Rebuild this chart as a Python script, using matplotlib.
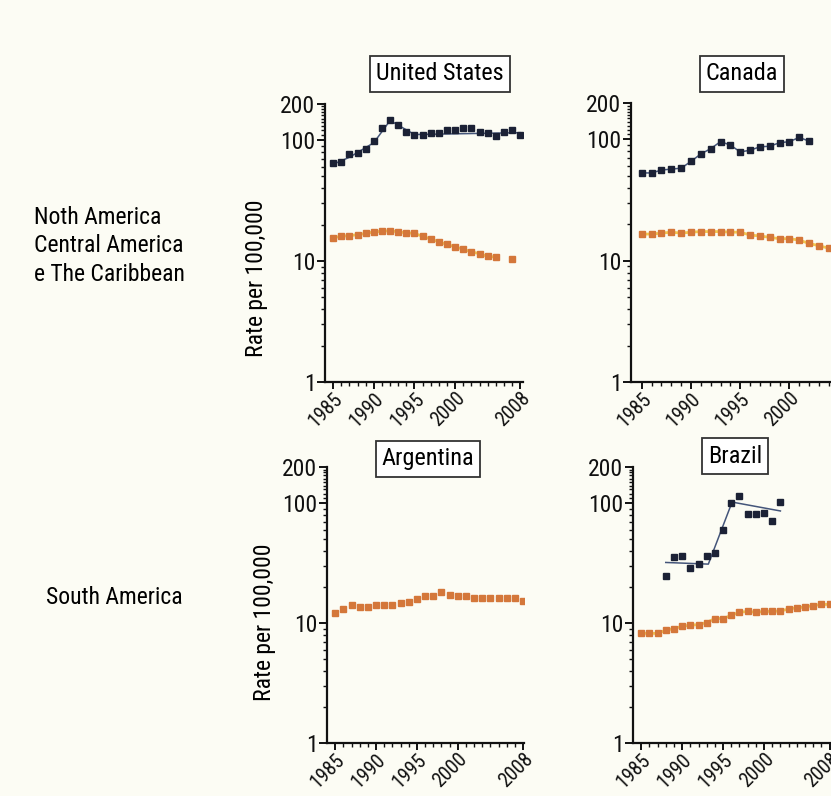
import numpy as np
import matplotlib
matplotlib.use("Agg")
import matplotlib.pyplot as plt
from matplotlib import font_manager
from matplotlib.ticker import FixedLocator, NullFormatter

# ---- data ----
years_us = np.arange(1985, 2009)
us_high = [64, 66, 76, 78, 84, 98, 125, 145, 132, 117, 109, 111, 115, 114,
           122, 122, 126, 125, 116, 114, 108, 117, 120, 109]
us_low = [15.6, 16.0, 16.2, 16.5, 16.9, 17.4, 17.6, 17.8, 17.4, 17.1, 16.9, 16.0,
          15.2, 14.4, 13.7, 13.1, 12.5, 11.9, 11.5, 10.9, 10.8, np.nan, 10.3, np.nan]
us_trend_years = [1985, 1987, 1990, 1992, 1995, 2008]
us_trend_vals = [63, 72, 95, 145, 111, 115]

years_ca_high = np.arange(1985, 2003)
ca_high = [53, 53, 56, 57, 58, 66, 76, 84, 96, 90, 79, 81.5, 87, 88, 94, 96, 104, 97]
years_ca_low = np.arange(1985, 2005)
ca_low = [16.6, 16.6, 16.9, 17.2, 16.9, 17.2, 17.4, 17.4, 17.4, 17.2, 17.2, 16.3,
          16.0, 15.6, 15.2, 15.2, 14.8, 13.9, 13.3, 12.7]

years_ar = np.arange(1985, 2009)
ar_low = [12.1, 13.1, 14.2, 13.7, 13.7, 14.2, 14.2, 14.2, 14.7, 15.1, 15.8, 16.7,
          16.7, 18.0, 17.2, 16.9, 16.7, 16.3, 16.3, 16.3, 16.3, 16.3, 16.1, 15.4]

years_br_high = np.arange(1988, 2003)
br_high = [24.7, 35.8, 36.5, 29.0, 30.9, 36.5, 38.6, 60.2, 101, 115.5, 81, 81, 82, 71.4, 102]
br_trend_years = [1988, 1993.2, 1996.1, 2002]
br_trend_vals = [32, 31, 102, 86]
years_br = np.arange(1985, 2009)
br_low = [8.2, 8.2, 8.2, 8.7, 9.0, 9.4, 9.6, 9.7, 10.1, 10.9, 10.9, 11.6, 12.3, 12.5,
          12.3, 12.5, 12.5, 12.6, 13.1, 13.4, 13.6, 14.0, 14.3, 14.3]

xticks = [1985, 1990, 1995, 2000, 2008]
yticks = [1, 10, 100, 200]

# ---- style ----
names = {f.name for f in font_manager.fontManager.ttflist}
narrow = [n for n in ["Liberation Sans Narrow", "Roboto Condensed", "Open Sans Condensed",
                      "Noto Sans Condensed", "DejaVu Sans"] if n in names]
plt.rcParams["font.family"] = [narrow[0], "DejaVu Sans"]
if narrow[0] == "DejaVu Sans":
    plt.rcParams["font.stretch"] = "condensed"

BG = "#fcfcf4"
NAVY = "#1b2135"
NAVY_LINE = "#44557a"
ORANGE = "#d4773a"
ORANGE_LINE = "#f5c84e"

W, H = 831, 796
fig = plt.figure(figsize=(W / 100, H / 100), dpi=100, facecolor=BG)


def make_axes(left, top, right, bottom, xlim):
    ax = fig.add_axes([left / W, 1 - bottom / H, (right - left) / W, (bottom - top) / H])
    ax.set_facecolor("none")
    ax.set_yscale("log")
    ax.set_ylim(1, 200)
    ax.set_xlim(*xlim)
    for s in ["top", "right"]:
        ax.spines[s].set_visible(False)
    for s in ["left", "bottom"]:
        ax.spines[s].set_linewidth(1.6)
        ax.spines[s].set_color("#111111")
    ax.yaxis.set_major_locator(FixedLocator(yticks))
    ax.set_yticklabels([str(t) for t in yticks], fontsize=17)
    ax.yaxis.set_minor_locator(FixedLocator(
        [v * d for d in (1, 10) for v in range(2, 10)] + [110, 120, 130, 140, 150, 160, 170, 180, 190]))
    ax.yaxis.set_minor_formatter(NullFormatter())
    ax.xaxis.set_major_locator(FixedLocator(xticks))
    ax.xaxis.set_minor_locator(FixedLocator(list(range(1985, 2009))))
    ax.set_xticklabels([str(t) for t in xticks], fontsize=14.5, rotation=45,
                       ha="right", rotation_mode="anchor")
    ax.tick_params(axis="both", which="major", length=6, width=1.4, pad=1, colors="#111111")
    ax.tick_params(axis="both", which="minor", length=3, width=1.0, colors="#111111")
    ax.tick_params(axis="x", which="major", length=5, pad=0)
    return ax


def draw_low(ax, yrs, vals, line=True):
    if line:
        ax.plot(yrs, vals, color=ORANGE_LINE, lw=2.0, zorder=2)
    ax.plot(yrs, vals, ls="none", marker="s", ms=4.2, color=ORANGE, mec=ORANGE, zorder=3)


# United States
ax1 = make_axes(325, 103.6, 522.7, 382, (1984.0, 2008.3))
ax1.plot(us_trend_years, us_trend_vals, color=NAVY_LINE, lw=1.1, zorder=2)
ax1.plot(years_us, us_high, ls="none", marker="s", ms=4.2, color=NAVY, zorder=3)
draw_low(ax1, years_us, us_low)

# Canada
ax2 = make_axes(631, 103, 871, 382, (1983.9, 2008.3))
ax2.plot(years_ca_high, ca_high, color=NAVY_LINE, lw=1.1, marker="s", ms=4.2,
         mfc=NAVY, mec=NAVY, zorder=3)
draw_low(ax2, years_ca_low, ca_low)

# Argentina
ax3 = make_axes(327, 467, 524, 743, (1984.0, 2008.1))
draw_low(ax3, years_ar, ar_low, line=False)

# Brazil
ax4 = make_axes(633, 467, 832, 743, (1984.0, 2008.3))
ax4.plot(br_trend_years, br_trend_vals, color=NAVY_LINE, lw=1.1, zorder=2)
ax4.plot(years_br_high, br_high, ls="none", marker="s", ms=4.6, color=NAVY, zorder=3)
draw_low(ax4, years_br, br_low)

# panel titles in boxes
box = dict(boxstyle="square,pad=0.25", fc="white", ec="#333333", lw=1.3)
for label, x, y in [("United States", 440, 74), ("Canada", 742, 74),
                    ("Argentina", 428, 459), ("Brazil", 735, 456)]:
    fig.text(x / W, 1 - y / H, label, fontsize=17.5, ha="center", va="center", bbox=box)

# y labels
fig.text(257 / W, 1 - 278 / H, "Rate per 100,000", rotation=90, fontsize=17,
         ha="center", va="center")
fig.text(264 / W, 1 - 622 / H, "Rate per 100,000", rotation=90, fontsize=17,
         ha="center", va="center")

# region labels
fig.text(34 / W, 1 - 246 / H, "Noth America\nCentral America\ne The Caribbean",
         fontsize=17, ha="left", va="center", linespacing=1.3)
fig.text(46 / W, 1 - 597 / H, "South America", fontsize=17, ha="left", va="center")

fig.savefig("out.png", dpi=100, facecolor=BG)
